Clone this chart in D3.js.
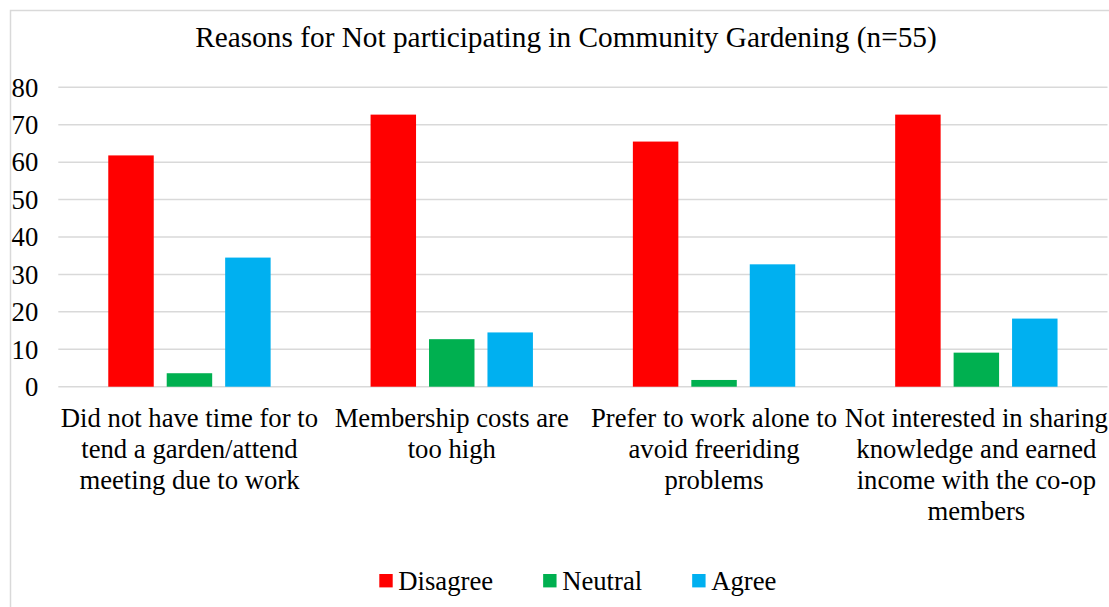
<!DOCTYPE html>
<html>
<head>
<meta charset="utf-8">
<script src="https://cdn.jsdelivr.net/npm/d3@7"></script>
<style>
  html, body { margin: 0; padding: 0; background: #ffffff; }
  svg text { font-family: "Liberation Serif", "Times New Roman", serif; fill: #000000; }
</style>
</head>
<body>
<svg id="chart"></svg>
<script>
// chart data (percent of n=55 respondents)
const title      = "Reasons for Not participating in Community Gardening (n=55)";
const categories = [
  ["Did not have time for to", "tend a garden/attend", "meeting due to work"],
  ["Membership costs are", "too high"],
  ["Prefer to work alone to", "avoid freeriding", "problems"],
  ["Not interested in sharing", "knowledge and earned", "income with the co-op", "members"]
];
const seriesNames = ["Disagree", "Neutral", "Agree"];
const disagree   = [61.8, 72.7, 65.5, 72.7];
const neutral    = [3.6, 12.7, 1.8, 9.1];
const agree      = [34.5, 14.5, 32.7, 18.2];
const yTicks     = [0, 10, 20, 30, 40, 50, 60, 70, 80];
const colors     = ["#ff0000", "#00b050", "#00b0f0"];

const W = 1109, H = 607;
const svg = d3.select("#chart").attr("width", W).attr("height", H);

// outer chart frame (right and bottom fall outside the picture)
svg.append("rect").attr("x", 10.5).attr("y", 10.5).attr("width", 1200).attr("height", 700)
  .attr("fill", "#ffffff").attr("stroke", "#d9d9d9").attr("stroke-width", 1.5);

const plot = { left: 58.3, right: 1107.5, top: 87.3, bottom: 386.7 };

const catKeys = categories.map((c, i) => i);
const x  = d3.scaleBand().domain(catKeys).range([plot.left, plot.right]).padding(0);
const xs = d3.scaleBand().domain(seriesNames).range([0, x.bandwidth()]).paddingInner(0.222).paddingOuter(0.855);
const y  = d3.scaleLinear().domain([0, 80]).range([plot.bottom, plot.top]);

// gridlines
svg.append("g").attr("class", "grid")
  .selectAll("line").data(yTicks).join("line")
  .attr("x1", plot.left).attr("x2", plot.right)
  .attr("y1", d => y(d)).attr("y2", d => y(d))
  .attr("stroke", "#d9d9d9").attr("stroke-width", 1.5);

// y axis labels
const yAxis = svg.append("g").attr("transform", `translate(${plot.left},0)`)
  .call(d3.axisLeft(y).tickValues(yTicks).tickSize(0).tickPadding(20));
yAxis.select(".domain").remove();
yAxis.selectAll("text").attr("font-size", "26.7px").attr("font-family", "Liberation Serif").attr("dy", "0.33em");

// bars
const rows = catKeys.map(i => ({ i, values: [disagree[i], neutral[i], agree[i]] }));
const groups = svg.append("g").selectAll("g.cat").data(rows).join("g")
  .attr("class", "cat").attr("transform", d => `translate(${x(d.i)},0)`);
groups.selectAll("rect").data(d => d.values.map((v, k) => ({ s: seriesNames[k], v, k }))).join("rect")
  .attr("x", d => xs(d.s)).attr("width", xs.bandwidth())
  .attr("y", d => y(d.v)).attr("height", d => y(0) - y(d.v))
  .attr("fill", d => colors[d.k]);

// category labels (wrapped as in the original)
const lineBase = 427, lineGap = 31;
svg.append("g").selectAll("text.cat-label").data(rows).join("text")
  .attr("class", "cat-label").attr("text-anchor", "middle").attr("font-size", "26.7px")
  .attr("x", d => x(d.i) + x.bandwidth() / 2).attr("y", lineBase)
  .each(function (d) {
    const t = d3.select(this);
    categories[d.i].forEach((ln, j) => {
      t.append("tspan").attr("x", x(d.i) + x.bandwidth() / 2).attr("y", lineBase + j * lineGap).text(ln);
    });
  });

// title
svg.append("text").attr("x", 566).attr("y", 47).attr("text-anchor", "middle")
  .attr("font-size", "29.3px").text(title);

// legend
const legend = svg.append("g").attr("transform", "translate(379.3,0)");
let lx = 0;
seriesNames.forEach((name, k) => {
  const g = legend.append("g").attr("transform", `translate(${lx},0)`);
  g.append("rect").attr("x", 0).attr("y", 574).attr("width", 13.4).attr("height", 13.4).attr("fill", colors[k]);
  const txt = g.append("text").attr("x", 19).attr("y", 589.5).attr("font-size", "26.7px").text(name);
  lx += 19 + txt.node().getComputedTextLength() + 50;
});
</script>
</body>
</html>
